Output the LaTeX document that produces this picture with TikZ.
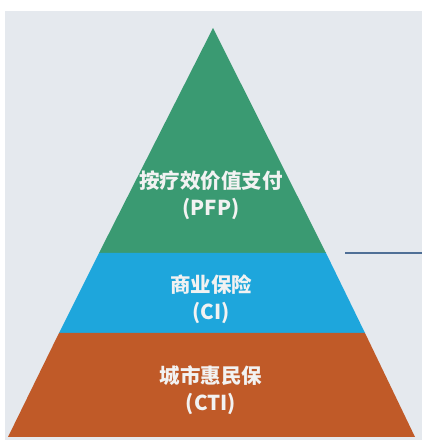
\documentclass[tikz,border=0pt]{standalone}
\usepackage{fontspec}
\newfontfamily\cjk{Noto Sans CJK SC}
\definecolor{bggray}{RGB}{229,233,238}
\definecolor{topgreen}{RGB}{58,154,114}
\definecolor{midblue}{RGB}{30,166,220}
\definecolor{basebrown}{RGB}{192,90,40}
\definecolor{lineblue}{RGB}{79,111,150}
\definecolor{labelwhite}{RGB}{242,242,242}
\tikzset{
  tierlabel/.style={align=center, text=labelwhite, inner sep=0pt,
    font=\cjk\bfseries\fontsize{20.5}{27}\selectfont}
}

\begin{document}
\begin{tikzpicture}[x=1pt, y=1pt]
    \useasboundingbox (0,0) rectangle (422,440);
    % Fondo
    \fill[white] (0,0) rectangle (422,440);
    \fill[bggray] (5,0) rectangle (422,429);

    % Niveles
    \fill[topgreen] (213,412) -- (326,187) -- (99,187) -- cycle;
    \fill[midblue] (99,187) -- (326,187) -- (365,107) -- (59,107) -- cycle;
    \fill[basebrown] (59,107) -- (365,107) -- (415,3) -- (8,3) -- cycle;

    % Textos
    \node[tierlabel] (pfp) at (211,245) {按疗效价值支付\\(PFP)};
    \node[tierlabel] (ci) at (211,141) {商业保险\\(CI)};
    \node[tierlabel] (cti) at (211,50) {城市惠民保\\(CTI)};

    % Linea
    \coordinate (lstart) at (345,187);
    \coordinate (lend) at (422,187);
    \draw[lineblue, line width=1.2pt] (lstart) -- (lend);
\end{tikzpicture}
\end{document}
